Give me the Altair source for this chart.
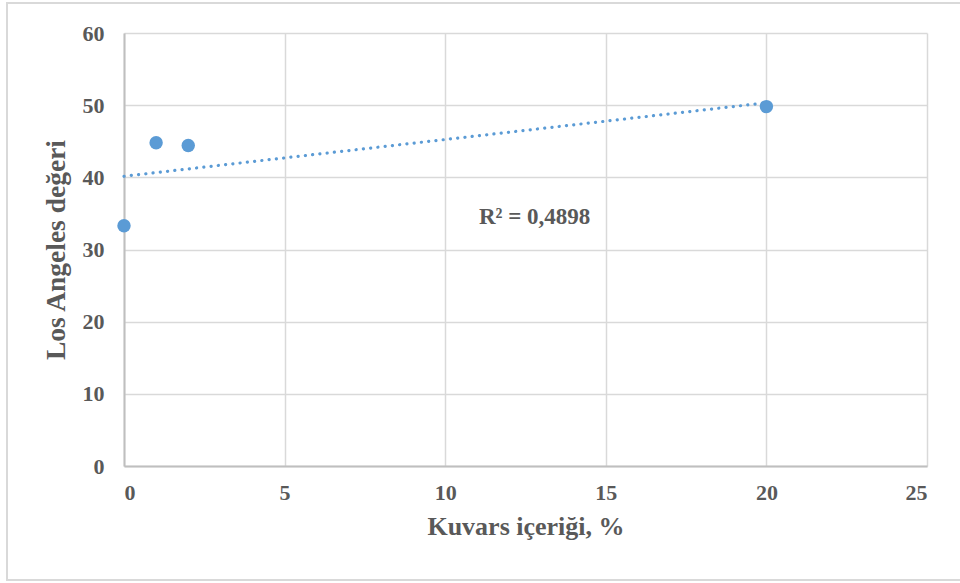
import altair as alt
import pandas as pd

# Quartz content (%) vs Los Angeles abrasion value
quartz = [0, 1, 2, 20]
la_value = [33.3, 44.8, 44.4, 49.8]

df = pd.DataFrame({"quartz": quartz, "la": la_value})

FONT = "Liberation Serif"
TEXT_COLOR = "#595959"
BLUE = "#5B9BD5"

W, H = 803, 433
PAD_L, PAD_T = 124, 33
PAD_R, PAD_B = 960 - PAD_L - W, 583 - PAD_T - H

x_enc = alt.X(
    "quartz:Q",
    scale=alt.Scale(domain=[0, 25], nice=False),
    axis=alt.Axis(
        values=[0, 5, 10, 15, 20, 25],
        title="Kuvars içeriği, %",
        titlePadding=10,
    ),
)
y_enc = alt.Y(
    "la:Q",
    scale=alt.Scale(domain=[0, 60], nice=False),
    axis=alt.Axis(
        values=[0, 10, 20, 30, 40, 50, 60],
        title="Los Angeles değeri",
        titlePadding=12,
        titleFontSize=27.5,
    ),
)

base = alt.Chart(df)

# Light frame around the whole chart
frame = base.mark_rect(
    fill=None, stroke="#D9D9D9", strokeWidth=2, clip=False
).encode(
    x=alt.value(-117), x2=alt.value(900),
    y=alt.value(-30), y2=alt.value(547),
)

points = base.mark_circle(size=180, color=BLUE, opacity=1).encode(x=x_enc, y=y_enc)

trend = base.transform_regression(
    "quartz", "la", method="linear", extent=[0, 20]
).mark_line(
    color=BLUE, strokeWidth=3.2, strokeDash=[0.1, 7.2], strokeCap="round"
).encode(x="quartz:Q", y="la:Q")

r2_label = alt.Chart(pd.DataFrame({"t": ["R² = 0,4898"]})).mark_text(
    font=FONT, fontSize=23, fontWeight="bold", color=TEXT_COLOR,
    align="left", baseline="middle",
).encode(text="t:N", x=alt.value(355), y=alt.value(184))

chart = alt.layer(frame, trend, points, r2_label).properties(
    width=W, height=H,
    autosize=alt.AutoSizeParams(type="none"),
    padding={"left": PAD_L, "top": PAD_T, "right": PAD_R, "bottom": PAD_B},
).configure_view(
    stroke=None
).configure_axis(
    labelFont=FONT, labelFontSize=22, labelFontWeight="bold", labelColor=TEXT_COLOR,
    titleFont=FONT, titleFontSize=26, titleFontWeight="bold", titleColor=TEXT_COLOR,
    gridColor="#D9D9D9", gridWidth=1.5,
    domainColor="#BFBFBF", domainWidth=2,
    ticks=False,
).configure_axisX(
    labelPadding=16, domain=True,
).configure_axisY(
    labelPadding=20, domain=True,
)

chart.save("out.html", embed_options={"renderer": "svg", "actions": False})
